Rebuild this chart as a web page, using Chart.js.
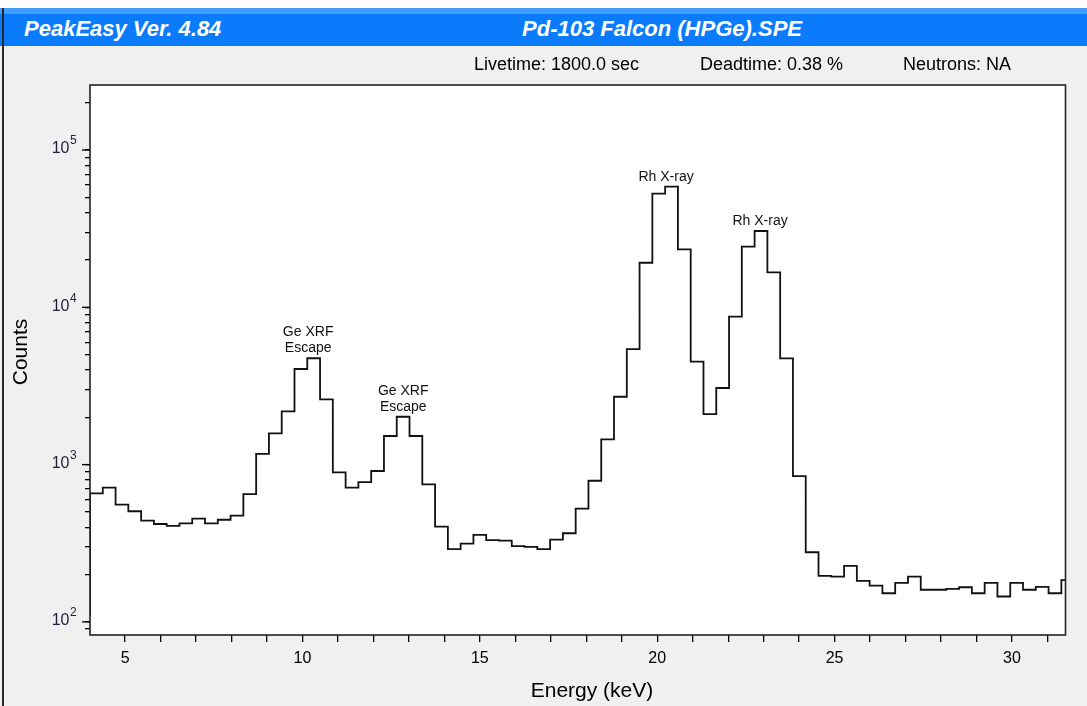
<!DOCTYPE html>
<html>
<head>
<meta charset="utf-8">
<script src="https://cdn.jsdelivr.net/npm/chart.js@4.4.1/dist/chart.umd.min.js"></script>
<style>
  body { margin: 0; width: 1087px; height: 706px; overflow: hidden; background: #f0f0f0; position: relative;
         font-family: Arial, "Liberation Sans", sans-serif; }
  #topline { position: absolute; left: 0; top: 0; width: 1087px; height: 8px; background: #fff; z-index: 2; }
  #edge { position: absolute; left: 2px; top: 8px; width: 2px; height: 698px; background: #2a2a2a; z-index: 3; }
  #bar { position: absolute; left: 0; top: 8px; width: 1087px; height: 38px; z-index: 2;
         background: linear-gradient(#3f9eff 0, #3f9eff 6px, #0a7cfb 6px); color: #fff;
         font-weight: bold; font-style: italic; font-size: 22px; }
  #bar span { position: absolute; top: 8px; line-height: 26px; white-space: nowrap; }
  .info { position: absolute; top: 53px; font-size: 18px; line-height: 22px; color: #000; white-space: nowrap; z-index: 2; }
  canvas { position: absolute; left: 0; top: 0; }
</style>
</head>
<body>
<div id="topline"></div>
<div id="bar">
  <span style="left:24px">PeakEasy Ver. 4.84</span>
  <span style="left:662px;transform:translateX(-50%)">Pd-103 Falcon (HPGe).SPE</span>
</div>
<div id="edge"></div>
<div class="info" style="left:474px">Livetime: 1800.0 sec</div>
<div class="info" style="left:700px">Deadtime: 0.38 %</div>
<div class="info" style="left:903px">Neutrons: NA</div>
<canvas id="spectrum" width="1087" height="706"></canvas>
<script>
// energy calibration of the channels (keV at the left edge of the first bin, keV per bin)
const firstEdgeKeV = 3.6497;
const binWidthKeV = 0.3603;

// counts per bin
const binCounts = [
  110,
  656, 713, 556, 505, 440, 419, 408, 423, 453, 423,
  446, 473, 649, 1171, 1581, 2181, 4051, 4742, 2600, 893,
  713, 774, 910, 1519, 2014, 1519, 749, 403, 290, 314,
  357, 331, 328, 303, 300, 290, 333, 366, 524, 789,
  1448, 2700, 5428, 19200, 52730, 58430, 23370, 4508, 2096, 3067,
  8710, 24290, 30550, 16690, 4738, 845, 277, 196, 194, 227,
  182, 170, 152, 177, 194, 160, 160, 162, 166, 152,
  177, 145, 177, 160, 167, 152, 184
];

const xTickValues = [5, 6, 7, 8, 9, 10, 11, 12, 13, 14, 15, 16, 17, 18, 19, 20, 21, 22, 23, 24, 25, 26, 27, 28, 29, 30, 31];
const yDecades = [2, 3, 4, 5];

const peakLabelEnergies = [10.16, 12.84, 20.25, 22.9];
const peakLabelTexts = [['Ge XRF', 'Escape'], ['Ge XRF', 'Escape'], ['Rh X-ray'], ['Rh X-ray']];

const points = binCounts.map((c, i) => ({ x: firstEdgeKeV + i * binWidthKeV, y: c }));
points.push({ x: firstEdgeKeV + binCounts.length * binWidthKeV, y: binCounts[binCounts.length - 1] });

const decor = {
  id: 'decor',
  beforeDraw(chart) {
    const { ctx, chartArea: a } = chart;
    ctx.save();
    ctx.fillStyle = '#fff';
    ctx.fillRect(a.left, a.top, a.right - a.left, a.bottom - a.top);
    ctx.restore();
  },
  afterDraw(chart) {
    const { ctx, chartArea: a, scales } = chart;
    ctx.save();
    ctx.strokeStyle = '#222';
    ctx.lineWidth = 1.6;
    ctx.strokeRect(a.left, a.top, a.right - a.left, a.bottom - a.top);

    // longer major ticks on the count axis
    ctx.lineWidth = 1.3;
    ctx.strokeStyle = '#000';
    yDecades.forEach(d => {
      const y = scales.y.getPixelForValue(10 ** d);
      ctx.beginPath();
      ctx.moveTo(a.left - 8, y);
      ctx.lineTo(a.left, y);
      ctx.stroke();
    });

    // 10^n labels
    ctx.fillStyle = '#1e1e38';
    ctx.textBaseline = 'middle';
    yDecades.forEach(d => {
      const y = scales.y.getPixelForValue(10 ** d);
      ctx.font = '16px Arial, "Liberation Sans"';
      ctx.textAlign = 'right';
      ctx.fillText('10', 69.5, y - 1);
      ctx.font = '12px Arial, "Liberation Sans"';
      ctx.textAlign = 'left';
      ctx.fillText(String(d), 70, y - 9);
    });

    // axis titles
    ctx.fillStyle = '#000';
    ctx.font = '21px Arial, "Liberation Sans"';
    ctx.textAlign = 'center';
    ctx.fillText('Energy (keV)', 592, 691);
    ctx.save();
    ctx.translate(21, 352);
    ctx.rotate(-Math.PI / 2);
    ctx.fillText('Counts', 0, 0);
    ctx.restore();

    // peak labels, placed just above the tallest bin near each energy
    ctx.font = '14px Arial, "Liberation Sans"';
    ctx.textBaseline = 'bottom';
    ctx.fillStyle = '#111';
    ctx.beginPath();
    ctx.rect(a.left, a.top, a.right - a.left, a.bottom - a.top);
    ctx.clip();
    peakLabelEnergies.forEach((e, k) => {
      let top = 0;
      binCounts.forEach((c, i) => {
        const mid = firstEdgeKeV + (i + 0.5) * binWidthKeV;
        if (Math.abs(mid - e) < 0.6 && c > top) top = c;
      });
      const x = scales.x.getPixelForValue(e);
      let y = scales.y.getPixelForValue(top) - 3;
      const lines = peakLabelTexts[k];
      for (let j = lines.length - 1; j >= 0; j--) {
        ctx.fillText(lines[j], x, y);
        y -= 16;
      }
    });
    ctx.restore();
  }
};

new Chart(document.getElementById('spectrum'), {
  type: 'line',
  data: {
    datasets: [{
      label: 'Counts',
      data: points,
      stepped: true,
      borderColor: '#111',
      borderWidth: 1.8,
      pointRadius: 0,
      fill: false
    }]
  },
  options: {
    responsive: false,
    animation: false,
    layout: { padding: { top: 85, right: 21.5, left: 0, bottom: 0 }, autoPadding: false },
    plugins: { legend: { display: false }, tooltip: { enabled: false } },
    scales: {
      x: {
        type: 'linear',
        min: 4.01,
        max: 31.51,
        afterBuildTicks: scale => { scale.ticks = xTickValues.map(v => ({ value: v })); },
        afterFit: scale => { scale.height = 71; },
        border: { display: false },
        grid: { drawOnChartArea: false, drawTicks: true, tickLength: 7, color: '#000', lineWidth: 1.3 },
        ticks: {
          autoSkip: false, maxRotation: 0, padding: 7, color: '#000',
          font: { family: 'Arial, "Liberation Sans"', size: 16 },
          callback: v => (v % 5 === 0 ? String(v) : '')
        }
      },
      y: {
        type: 'logarithmic',
        min: 82.5,
        max: 259000,
        afterBuildTicks: scale => {
          const t = [];
          for (let d = 1; d <= 5; d++) {
            for (let m = 1; m <= 9; m++) {
              const v = m * 10 ** d;
              if (v >= scale.min && v <= scale.max) t.push({ value: v });
            }
          }
          scale.ticks = t;
        },
        afterFit: scale => { scale.width = 90; },
        border: { display: false },
        grid: { drawOnChartArea: false, drawTicks: true, tickLength: 5, color: '#000', lineWidth: 1.3 },
        ticks: { callback: () => '' }
      }
    }
  },
  plugins: [decor]
});
</script>
</body>
</html>
